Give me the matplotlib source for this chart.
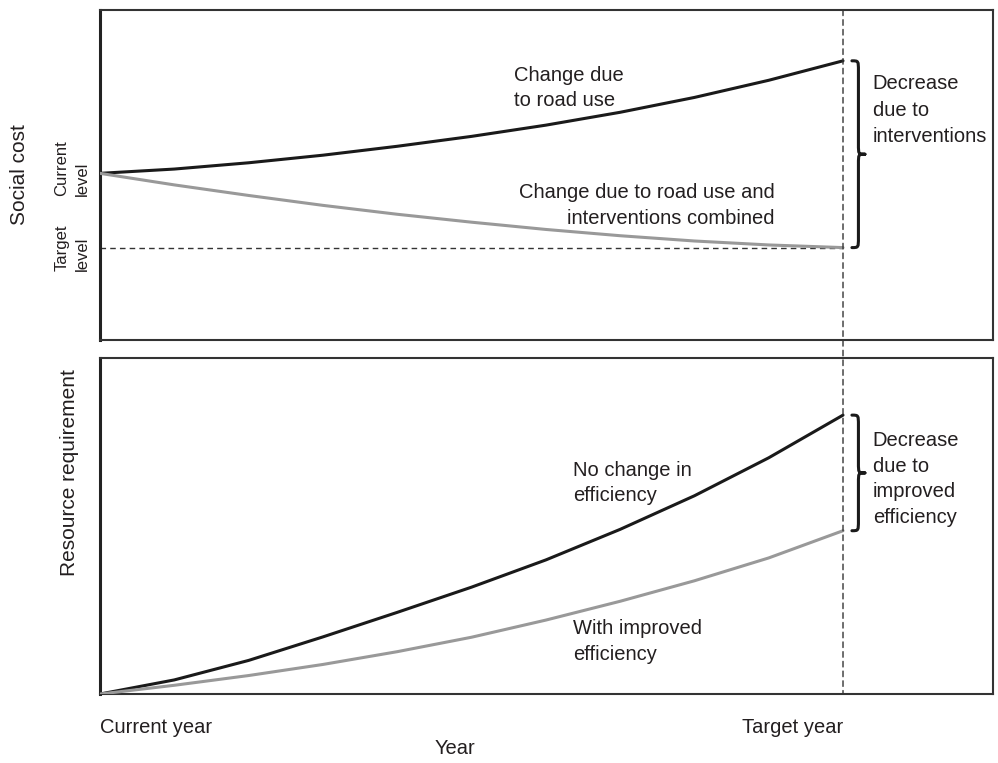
import matplotlib
matplotlib.use("Agg")
import matplotlib.pyplot as plt
from matplotlib.path import Path
from matplotlib.patches import PathPatch, ConnectionPatch
import matplotlib.transforms as mtransforms

plt.rcParams['font.family'] = ['Liberation Sans', 'DejaVu Sans']

# ---- data (years from current year; arbitrary index units) ----
years = [0, 1, 2, 3, 4, 5, 6, 7, 8, 9, 10]
social_road_use = [50.5, 51.8, 53.7, 56.0, 58.7, 61.7, 65.1, 69.0, 73.5, 78.7, 84.6]
social_combined = [50.5, 47.0, 43.8, 40.8, 38.1, 35.7, 33.5, 31.6, 30.0, 28.8, 28.0]
current_level = 50.5
target_level = 28.0
resource_no_change = [0, 4.2, 10.0, 17.0, 24.3, 31.8, 39.9, 49.0, 59.0, 70.3, 83.0]
resource_improved = [0, 2.6, 5.5, 8.8, 12.6, 16.9, 22.0, 27.6, 33.7, 40.5, 48.6]
x_tick_labels = ['Current year', 'Target year']
target_year = 10

TXT = '#231f20'
DARK = '#1a1a1a'
GREY = '#999999'
FS = 14.5

fig = plt.figure(figsize=(9.98, 7.63), dpi=100)
ax1 = fig.add_axes([0.1002, 0.5544, 0.8948, 0.4325])
ax2 = fig.add_axes([0.1002, 0.0904, 0.8948, 0.4404])

xmax = target_year * 893 / 743
for ax in (ax1, ax2):
    ax.set_xlim(0, xmax)
    ax.set_ylim(0, 100)
    ax.set_yticks([])
    for s in ax.spines.values():
        s.set_color('#333333')
        s.set_linewidth(1.5)
    ax.spines['left'].set_linewidth(2.2)
    ax.spines['left'].set_color('#222222')

dash = (0, (4, 3))

# ---- top panel ----
ax1.set_xticks([])
ax1.plot(years, social_road_use, color=DARK, lw=2.2, solid_capstyle='round', zorder=3)
ax1.plot(years, social_combined, color=GREY, lw=2.2, solid_capstyle='round', zorder=3)
ax1.plot([0, target_year], [target_level, target_level], color='#333333', lw=1.0, linestyle=dash)

ax1.text(5.57, 82.9, 'Change due\nto road use', ha='left', va='top', fontsize=FS,
         color=TXT, linespacing=1.35)
ax1.text(9.08, 47.6, 'Change due to road use and\ninterventions combined', ha='right',
         va='top', multialignment='right', fontsize=FS, color=TXT, linespacing=1.45)
ax1.text(10.40, 80.5, 'Decrease\ndue to\ninterventions', ha='left', va='top',
         fontsize=FS, color=TXT, linespacing=1.5)

ax1.text(-0.0907, 0.5, 'Social cost', transform=ax1.transAxes, rotation=90,
         ha='center', va='center', fontsize=FS + 0.5, color=TXT)
blend1 = mtransforms.blended_transform_factory(ax1.transAxes, ax1.transData)
ax1.text(-0.031, current_level + 1.5, 'Current\nlevel', transform=blend1, rotation=90,
         ha='center', va='center', multialignment='left', fontsize=12,
         color=TXT, linespacing=1.45)
ax1.text(-0.031, target_level, 'Target\nlevel', transform=blend1, rotation=90,
         ha='center', va='center', multialignment='left', fontsize=12,
         color=TXT, linespacing=1.45)

# ---- bottom panel ----
ax2.plot(years, resource_no_change, color=DARK, lw=2.2, solid_capstyle='round', zorder=3)
ax2.plot(years, resource_improved, color=GREY, lw=2.2, solid_capstyle='round', zorder=3)

ax2.text(6.37, 69.3, 'No change in\nefficiency', ha='left', va='top', fontsize=FS,
         color=TXT, linespacing=1.4)
ax2.text(6.37, 22.2, 'With improved\nefficiency', ha='left', va='top', fontsize=FS,
         color=TXT, linespacing=1.45)
ax2.text(10.40, 78.3, 'Decrease\ndue to\nimproved\nefficiency', ha='left', va='top',
         fontsize=FS, color=TXT, linespacing=1.45)

ax2.text(-0.0336, 0.66, 'Resource requirement', transform=ax2.transAxes, rotation=90,
         ha='center', va='center', fontsize=FS + 0.5, color=TXT)

ax2.set_xticks([0, target_year], x_tick_labels)
ax2.tick_params(axis='x', length=0, pad=17, labelsize=FS, labelcolor=TXT)
lbls = ax2.get_xticklabels()
lbls[0].set_ha('left')
lbls[1].set_ha('right')
blend2 = mtransforms.blended_transform_factory(ax2.transData, ax2.transAxes)
ax2.text(4.78, -0.163, 'Year', transform=blend2, ha='center', va='center',
         fontsize=FS, color=TXT)

# ---- dashed vertical target-year line across both panels ----
con = ConnectionPatch(xyA=(target_year, 100), coordsA=ax1.transData,
                      xyB=(target_year, 0), coordsB=ax2.transData,
                      color='#333333', lw=1.0, linestyle=dash, zorder=1)
fig.add_artist(con)


def brace(ax, x0, w, ylo, yhi, r):
    h = w / 2.0
    ym = (ylo + yhi) / 2.0
    verts = [
        (x0, yhi), (x0 + h, yhi), (x0 + h, yhi), (x0 + h, yhi - r),
        (x0 + h, ym + r),
        (x0 + h, ym), (x0 + h, ym), (x0 + w, ym),
        (x0 + h, ym), (x0 + h, ym), (x0 + h, ym - r),
        (x0 + h, ylo + r),
        (x0 + h, ylo), (x0 + h, ylo), (x0, ylo),
    ]
    codes = [Path.MOVETO, Path.CURVE4, Path.CURVE4, Path.CURVE4,
             Path.LINETO,
             Path.CURVE4, Path.CURVE4, Path.CURVE4,
             Path.CURVE4, Path.CURVE4, Path.CURVE4,
             Path.LINETO,
             Path.CURVE4, Path.CURVE4, Path.CURVE4]
    p = PathPatch(Path(verts, codes), fill=False, lw=2.2, edgecolor=DARK,
                  capstyle='round', joinstyle='round', clip_on=False)
    ax.add_patch(p)


bw = 10 * 13 / 743
bx = target_year * 1.012
brace(ax1, bx, bw, social_combined[-1], social_road_use[-1], 3.0)
brace(ax2, bx, bw, resource_improved[-1], resource_no_change[-1], 3.0)

fig.savefig('out.png', dpi=100)
